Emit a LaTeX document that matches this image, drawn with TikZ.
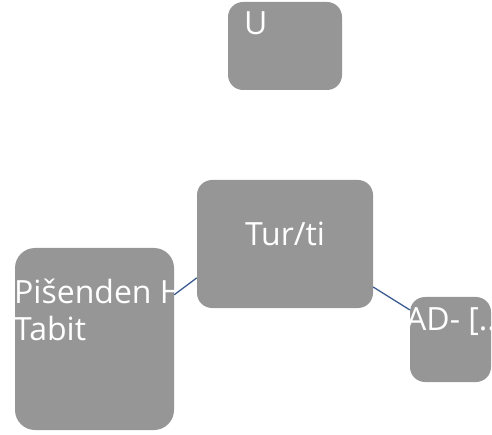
\documentclass[tikz,border=0pt]{standalone}
\usepackage{fontspec}
\setmainfont{Open Sans}
\definecolor{boxgray}{RGB}{150,150,150}
\definecolor{linkblue}{RGB}{59,92,145}

\begin{document}
\begin{tikzpicture}[
						x=1pt, y=-1pt,
						box/.style = {fill=boxgray, rounded corners=15pt, inner sep=0pt},
						lbl/.style = {text=white, inner sep=0pt, font=\fontsize{32}{37}\selectfont},
						link/.style = {draw=linkblue, line width=1.3pt}
					]
					\useasboundingbox (0,0) rectangle (492,435);
					\node[box, minimum width=114pt, minimum height=88pt,
						label={[lbl, anchor=base west, xshift=16pt, yshift=-33pt]north west:U}]
						(u) at (285,46) {};
					\node[box, minimum width=176pt, minimum height=128pt,
						path picture={\node[lbl, anchor=base, yshift=-66pt] at (path picture bounding box.north) {Tur/ti};}]
						(tur) at (285,244) {};
					\node[box, rounded corners=20pt, minimum width=159pt, minimum height=182pt,
						path picture={\node[lbl, anchor=base west, align=left, xshift=-1pt, yshift=-92pt] at (path picture bounding box.north west) {Pišenden H\\Tabit};}]
						(pish) at (94.5,339) {};
					\node[box, minimum width=81pt, minimum height=85pt,
						path picture={\node[lbl, anchor=base west, xshift=-4pt, yshift=-33pt] at (path picture bounding box.north west) {AD- [...};}]
						(ad) at (450.5,339.5) {};
					\draw[link] (pish.29.5) -- (tur.201);
					\draw[link] (tur.-26.6) -- (ad.144);
				\end{tikzpicture}
\end{document}
